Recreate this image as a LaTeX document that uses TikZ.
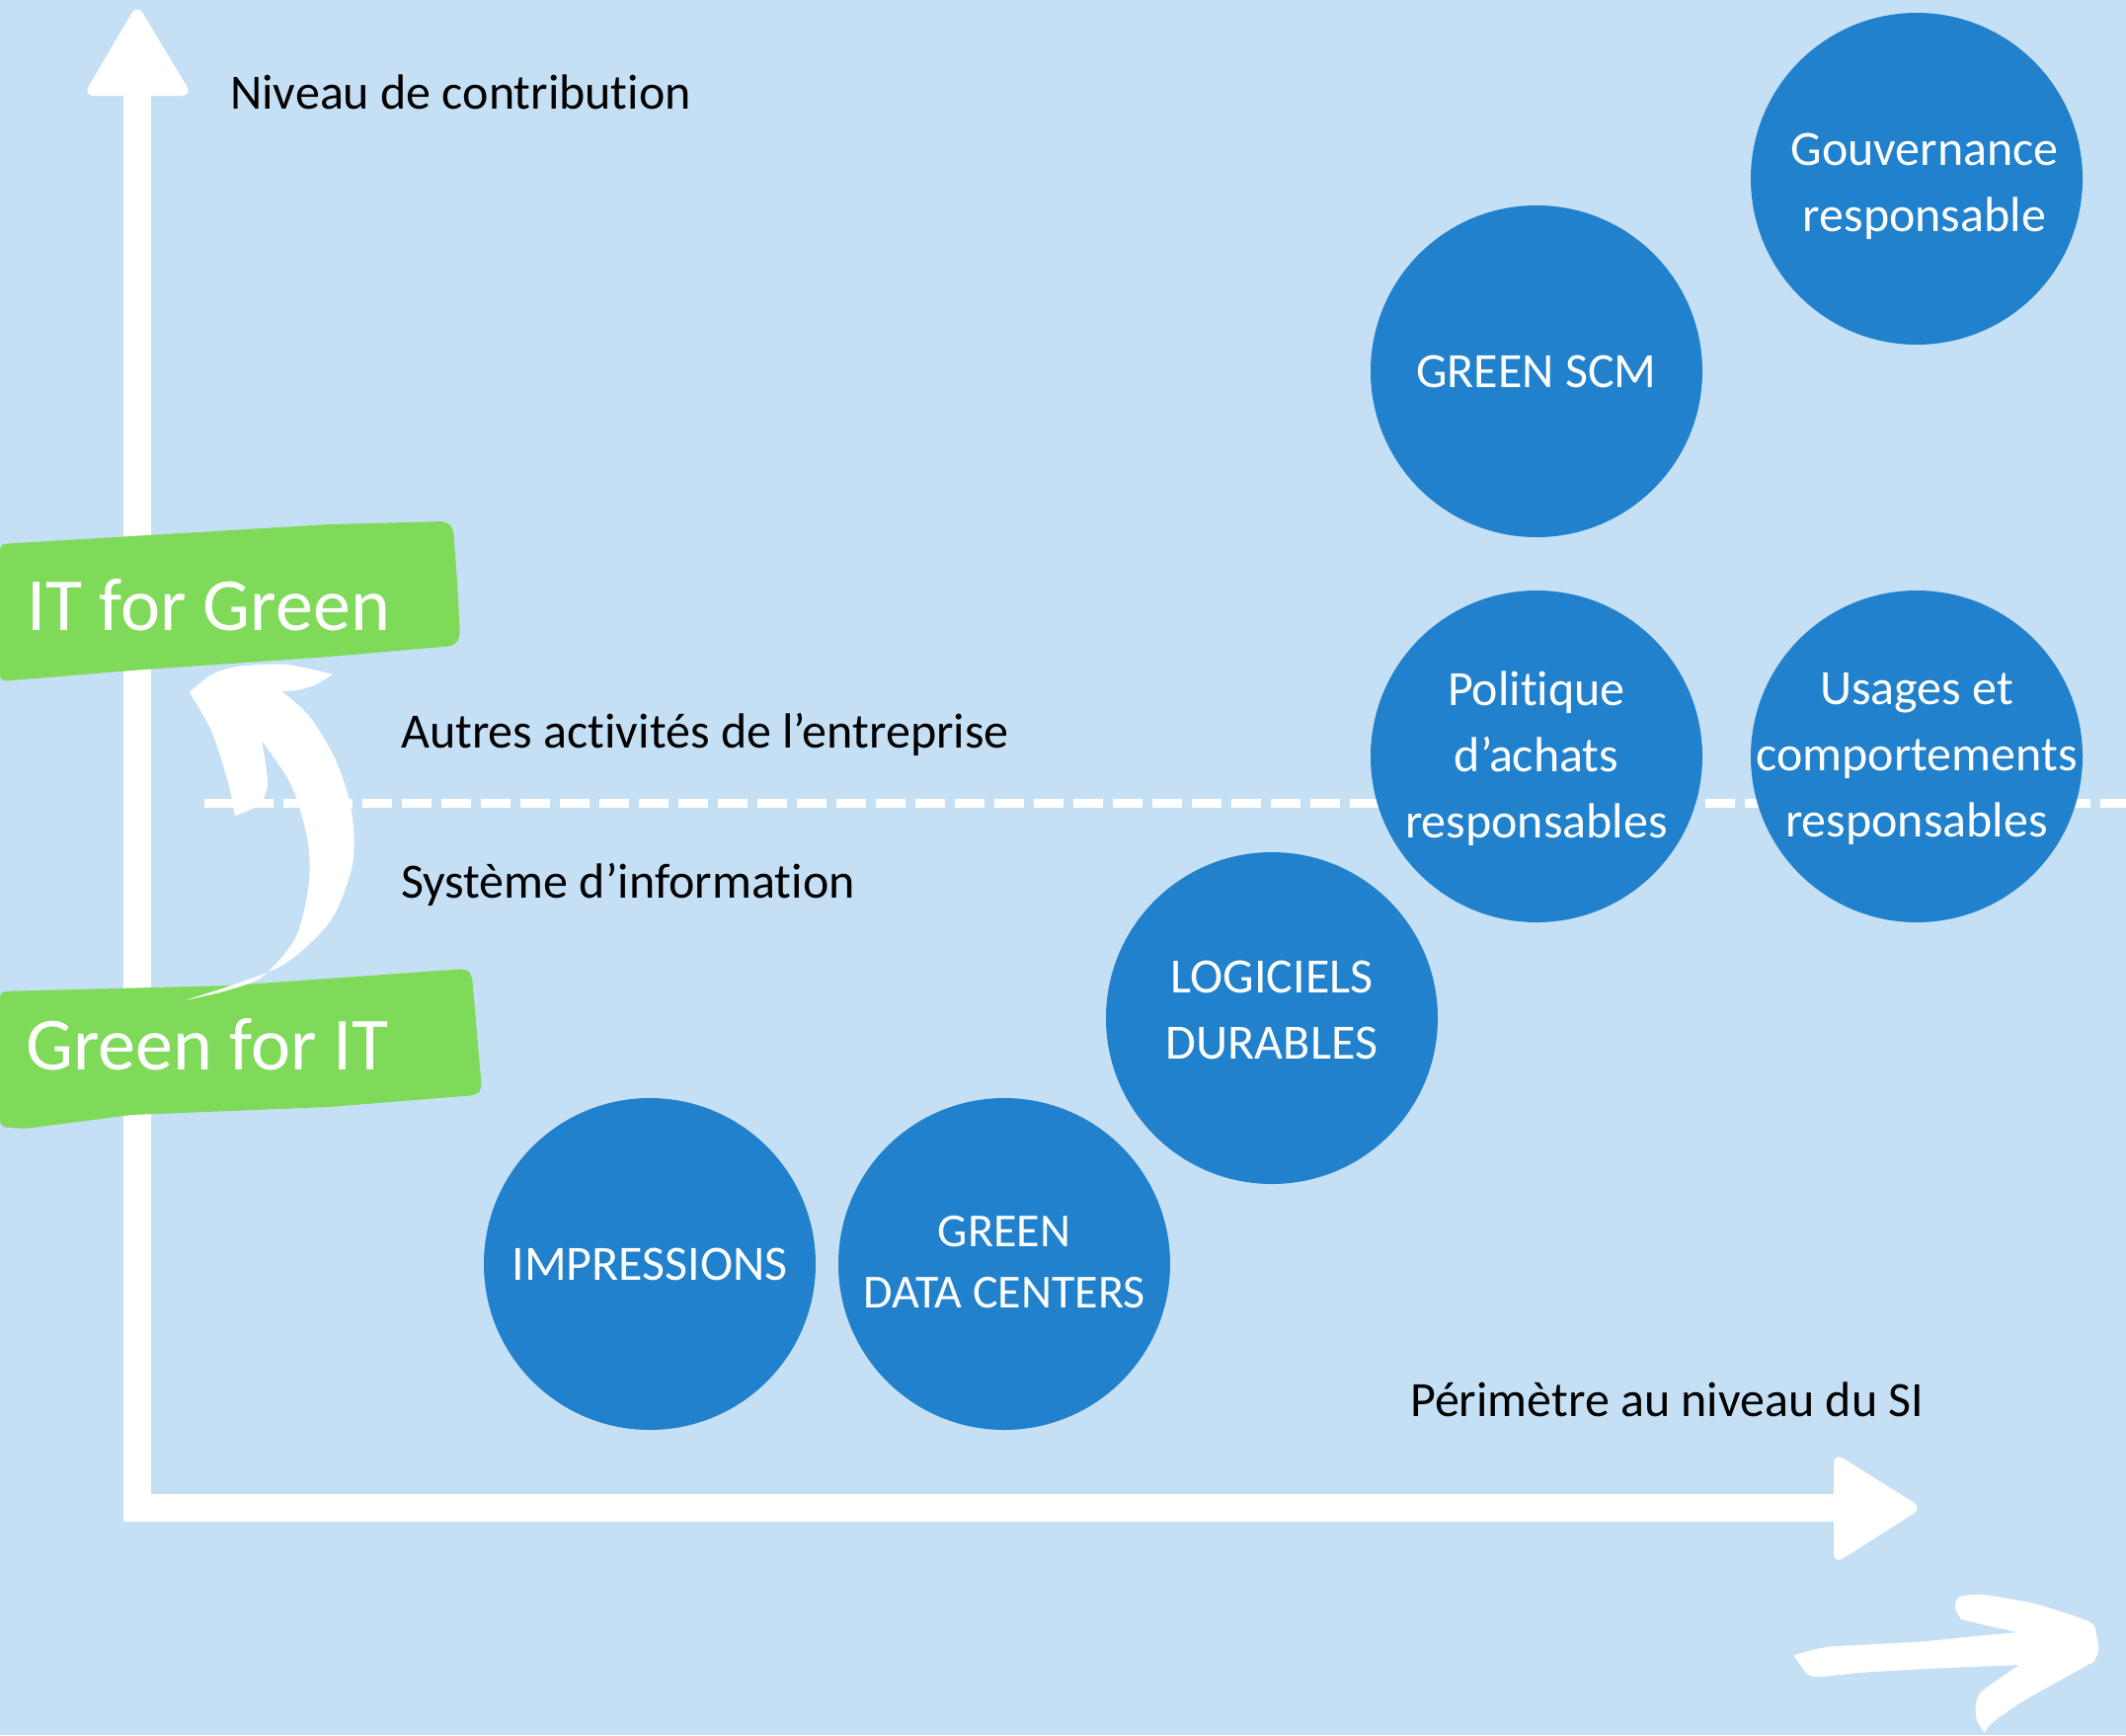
\documentclass[tikz,border=0pt]{standalone}
\usepackage{fontspec}
\setmainfont{Carlito}[Ligatures=NoCommon]
\definecolor{skyback}{RGB}{197,224,244}
\definecolor{bubbleblue}{RGB}{33,129,204}
\definecolor{markergreen}{RGB}{127,218,90}
\begin{document}
\begin{tikzpicture}[x=1pt,y=-1pt,
  axislabel/.style={anchor=base west, inner sep=0pt, text=black,
    font=\fontsize{50}{67}\selectfont},
  bubble/.style={circle, fill=bubbleblue, minimum size=336pt, inner sep=0pt},
  bubbletext/.style={align=center, text=white, inner sep=0pt,
    font=\fontsize{50}{67}\selectfont},
  bannertext/.style={anchor=base west, inner sep=0pt, text=white,
    font=\fontsize{76}{80}\selectfont},
  banner/.style={fill=markergreen, rounded corners=6pt},
  brush/.style={fill=white}]

% background and page size
\fill[skyback] (0,0) rectangle (2153,1757);
\useasboundingbox (0,0) rectangle (2153,1757);

% axes
\coordinate (origin) at (139,1527);
\coordinate (ytop) at (139,97);
\coordinate (xend) at (1857,1527);
\fill[white] (125,97) rectangle (153,1541);
\fill[white] (125,1513) rectangle (1857,1541);
\fill[white, rounded corners=11pt] (84,97) -- (139,4) -- (195,97) -- cycle;
\fill[white, rounded corners=11pt] (1857,1471) -- (1947,1527) -- (1857,1584) -- cycle;

% boundary between information system and the rest of the company
\coordinate (splitA) at (207,813.5);
\coordinate (splitB) at (2153,813.5);
\draw[white, line width=9pt, dash pattern=on 30pt off 10pt] (splitA) -- (splitB);

% axis titles and zone labels
\node[axislabel] (ylabel) at (233,110) {Niveau de contribution};
\node[axislabel] (upperzone) at (406,757) {Autres activités de l’entreprise};
\node[axislabel] (lowerzone) at (406,909) {Système d’information};
\node[axislabel] (xlabel) at (1428,1434) {Périmètre au niveau du SI};

% marker-style banners
\fill[banner] (0,551) -- (333,531) -- (452,528) -- (459,535) -- (463,589)
  -- (466,645) -- (460,654) -- (333,665) -- (133,679) -- (0,690) -- cycle;
\fill[banner] (0,1004) -- (233,998) -- (473,981) -- (478,988) -- (484,1058)
  -- (488,1103) -- (482,1109) -- (333,1121) -- (133,1129) -- (25,1143)
  -- (0,1141) -- cycle;
\node[bannertext] (itgreen) at (27,638) {IT for Green};
\node[bannertext] (greenit) at (26,1083) {Green for IT};

% hand-drawn curved arrow from Green for IT up to IT for Green
\fill[brush] (192,701)
  -- plot[smooth] coordinates {(192,701) (213,684) (240,675) (290,673) (337,683)}
  -- plot[smooth] coordinates {(337,683) (318,694) (300,699) (285,700)}
  -- plot[smooth] coordinates {(285,700) (313,725) (340,770) (356,821) (357,875)
       (335,932) (290,975) (240,996) (187,1013)}
  -- plot[smooth] coordinates {(187,1013) (230,1003) (267,988) (300,948) (313,893)
       (311,848) (295,795) (265,750)}
  -- plot[smooth] coordinates {(265,750) (271,790) (267,808) (257,818) (238,826)}
  -- plot[smooth] coordinates {(238,826) (235,810) (229,785) (214,740) (192,701)}
  -- cycle;

% bubbles
\node[bubble] (gov) at (1941,181) {};
\node[bubbletext] at ([shift={(8,8)}]gov) {Gouvernance\\responsable};
\node[bubble] (scm) at (1556,376) {};
\node[bubbletext] at (scm) {GREEN SCM};
\node[bubble] (achats) at (1556,766) {};
\node[bubbletext] at ([shift={(0,2)}]achats) {Politique\\d’achats\\responsables};
\node[bubble] (usages) at (1941,766) {};
\node[bubbletext] at ([shift={(0,2)}]usages) {Usages et\\comportements\\responsables};
\node[bubble] (logiciels) at (1288,1031) {};
\node[bubbletext] at ([shift={(0,-8)}]logiciels) {LOGICIELS\\DURABLES};
\node[bubble] (datacenters) at (1017,1280) {};
\node[bubbletext, font=\fontsize{48}{62}\selectfont] at ([shift={(0,-2)}]datacenters) {GREEN\\DATA CENTERS};
\node[bubble] (impressions) at (658,1280) {};
\node[bubbletext] at (impressions) {IMPRESSIONS};

% hand-drawn arrow in the lower right corner
\fill[brush] (1817,1677)
  -- plot[smooth] coordinates {(1817,1676) (1850,1668) (1900,1665) (1950,1662)
       (2000,1657) (2043,1653)}
  -- plot[smooth] coordinates {(2043,1653) (1995,1642) (1986,1640)}
  -- plot[smooth] coordinates {(1986,1640) (1980,1628) (1983,1618) (1995,1615) (2010,1615)}
  -- plot[smooth] coordinates {(2010,1615) (2060,1624) (2115,1642) (2123,1655)
       (2125,1672) (2120,1683)}
  -- plot[smooth] coordinates {(2120,1683) (2050,1722) (2017,1745) (2010,1755)}
  -- plot[smooth] coordinates {(2010,1755) (2002,1742) (2001,1725) (2008,1712) (2045,1686)}
  -- plot[smooth] coordinates {(2045,1686) (1950,1690) (1883,1694) (1843,1698)
       (1830,1695) (1817,1677)}
  -- cycle;
\end{tikzpicture}
\end{document}
